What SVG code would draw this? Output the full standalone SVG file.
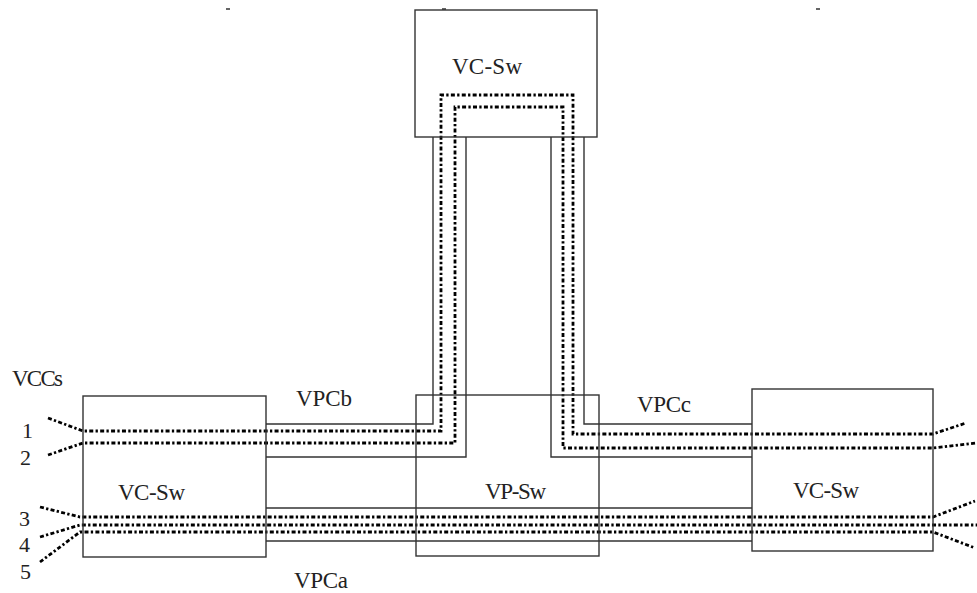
<svg xmlns="http://www.w3.org/2000/svg" width="977" height="593" viewBox="0 0 977 593">
<style>
.box{fill:none;stroke:#333;stroke-width:1.4}
.pipe{fill:none;stroke:#333;stroke-width:1.4}
.vcc{fill:none;stroke:#000;stroke-width:2.8;stroke-dasharray:4 2.3 2.3 2.3}
.lbl{font-family:"Liberation Serif","Times New Roman",serif;font-size:23px;fill:#222}
.num{font-family:"Liberation Serif","Times New Roman",serif;font-size:22px;fill:#222}
</style>
<rect width="977" height="593" fill="#fff"/>
<g id="connectors">
<path class="pipe" d="M266 424 H433 V137"/>
<path class="pipe" d="M266 457 H466 V137"/>
<path class="pipe" d="M584 137 V424 H752"/>
<path class="pipe" d="M551 137 V457 H752"/>
<path class="pipe" d="M266 508 H752"/>
<path class="pipe" d="M266 541 H752"/>
<path class="vcc" d="M48 418 L83 431 H441 V95 H573 V434 H933 L966 423"/>
<path class="vcc" d="M48 455 L83 443 H455 V107 H563 V448 H933 L977 443"/>
<path class="vcc" d="M40 507 L80 517 H933 L975 501"/>
<path class="vcc" d="M40 537 L80 525 H977"/>
<path class="vcc" d="M40 562 L80 532 H933 L975 548"/>
<path fill="none" stroke="#333" stroke-width="1.5" d="M226 9 H230 M442 9 H446 M816 9 H820"/>
</g>
<g id="node-top-vcsw">
<rect class="box" x="415" y="10" width="182" height="127"/>
<text class="lbl" x="452" y="74" textLength="70">VC-Sw</text>
</g>
<g id="node-left-vcsw">
<rect class="box" x="83" y="396" width="183" height="161"/>
<text class="lbl" x="118" y="500" textLength="67">VC-Sw</text>
</g>
<g id="node-vpsw">
<rect class="box" x="416" y="395" width="183" height="161"/>
<text class="lbl" x="485" y="499" textLength="61">VP-Sw</text>
</g>
<g id="node-right-vcsw">
<rect class="box" x="752" y="389" width="181" height="162"/>
<text class="lbl" x="793" y="498" textLength="66">VC-Sw</text>
</g>
<g id="labels">
<text class="lbl" x="12" y="386" textLength="51">VCCs</text>
<text class="num" x="22" y="438">1</text>
<text class="num" x="20" y="465">2</text>
<text class="num" x="19" y="526">3</text>
<text class="num" x="19" y="552">4</text>
<text class="num" x="20" y="579">5</text>
<text class="lbl" x="296" y="406" textLength="56">VPCb</text>
<text class="lbl" x="637" y="412" textLength="54">VPCc</text>
<text class="lbl" x="294" y="588" textLength="54">VPCa</text>
</g>
</svg>
